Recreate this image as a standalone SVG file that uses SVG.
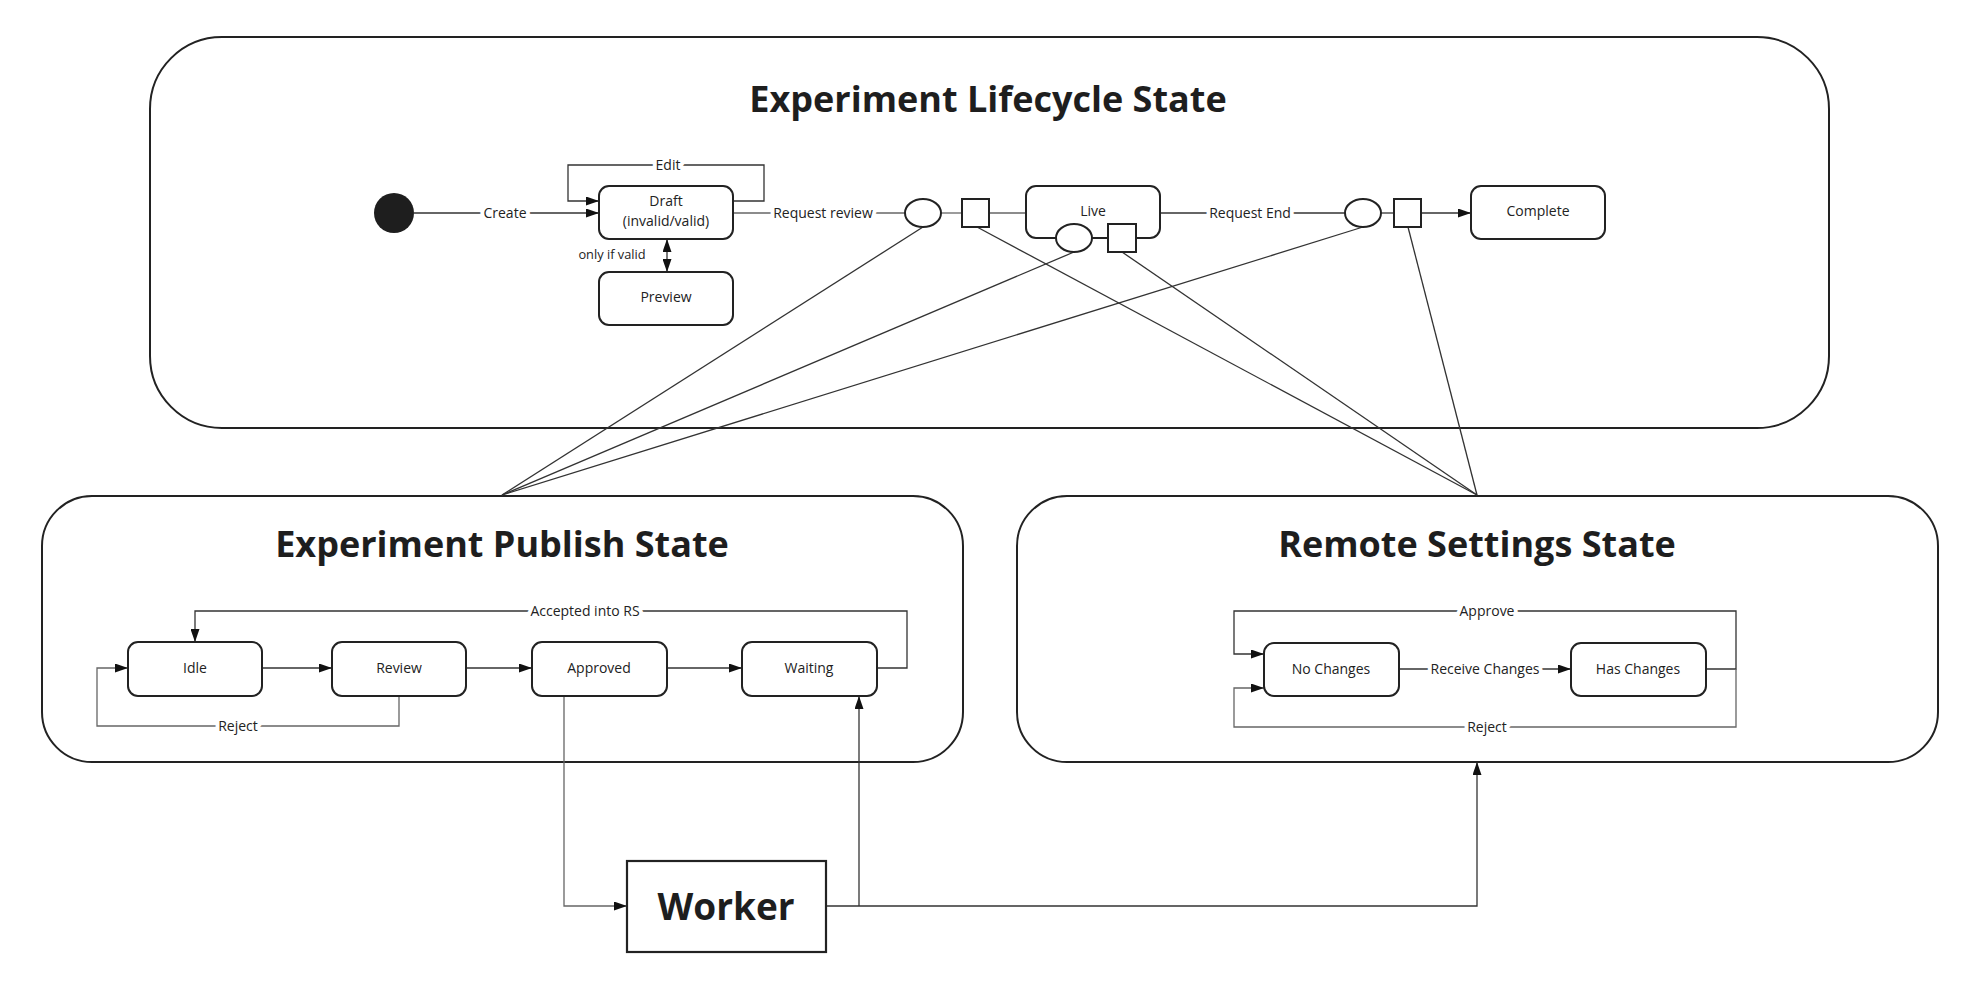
<svg xmlns="http://www.w3.org/2000/svg" width="1976" height="986" viewBox="0 0 1976 986">
<style>
.cont{fill:#fff;stroke:#222;stroke-width:2}
.node{fill:#fff;stroke:#222;stroke-width:2}
.title{font-family:"Open Sans","Liberation Sans",sans-serif;font-weight:700;font-size:36px;fill:#1e1e1e;text-anchor:middle}
.nt{font-family:"Open Sans","Liberation Sans",sans-serif;font-size:14px;fill:#222;text-anchor:middle}
.lbl{font-family:"Open Sans","Liberation Sans",sans-serif;font-size:14px;fill:#222;text-anchor:middle;stroke:#fff;stroke-width:8px;paint-order:stroke;stroke-linejoin:round}
.c{fill:none;stroke:#333;stroke-width:1.3}
.g{fill:none;stroke:#666;stroke-width:1.3}
</style>
<defs>
<marker id="arr" viewBox="0 0 10 10" refX="10" refY="5" markerWidth="13" markerHeight="9" markerUnits="userSpaceOnUse" orient="auto-start-reverse" preserveAspectRatio="none"><path d="M0,0 L10,5 L0,10 z" fill="#111"/></marker>
</defs>
<rect width="1976" height="986" fill="#fff"/>

<g id="lifecycle">
<rect class="cont" x="150" y="37" width="1679" height="391" rx="72"/>
<text class="title" x="988" y="112">Experiment Lifecycle State</text>
</g>
<g id="publish">
<rect class="cont" x="42" y="496" width="921" height="266" rx="50"/>
<text class="title" x="502" y="557">Experiment Publish State</text>
</g>
<g id="remote">
<rect class="cont" x="1017" y="496" width="921" height="266" rx="50"/>
<text class="title" x="1477" y="557">Remote Settings State</text>
</g>

<g id="connectors">
<path class="c" d="M923,227 L502,495"/>
<path class="c" d="M1074,252 L502,495"/>
<path class="c" d="M1363,227 L502,495"/>
<path class="c" d="M977,227 L1477,495"/>
<path class="c" d="M1122,252 L1477,495"/>
<path class="c" d="M1408,227 L1477,495"/>

<path class="c" d="M414,213 H599" marker-end="url(#arr)"/>
<path class="c" d="M733,201 H764 V165 H568 V201 H599" marker-end="url(#arr)"/>
<path class="c" d="M667,239 V272" marker-start="url(#arr)" marker-end="url(#arr)"/>
<path class="g" d="M733,213 H905"/>
<path class="g" d="M941,213 H962"/>
<path class="g" d="M989,213 H1026"/>
<path class="c" d="M1160,213 H1345"/>
<path class="c" d="M1381,213 H1394"/>
<path class="c" d="M1421,213 H1471" marker-end="url(#arr)"/>
<path class="c" d="M1092,238 H1108"/>

<path class="c" d="M262,668 H332" marker-end="url(#arr)"/>
<path class="c" d="M466,668 H532" marker-end="url(#arr)"/>
<path class="c" d="M667,668 H742" marker-end="url(#arr)"/>
<path class="c" d="M877,668 H907 V611 H195 V642" marker-end="url(#arr)"/>
<path class="g" d="M399,696 V726 H97 V668 H128" marker-end="url(#arr)"/>

<path class="g" d="M564,696 V906 H627" marker-end="url(#arr)"/>
<path class="c" d="M826,906 H1477 V762" marker-end="url(#arr)"/>
<path class="c" d="M859,906 V696" marker-end="url(#arr)"/>

<path class="c" d="M1399,669 H1571" marker-end="url(#arr)"/>
<path class="c" d="M1706,669 H1736 V611 H1234 V654 H1264" marker-end="url(#arr)"/>
<path class="g" d="M1736,669 V727 H1234 V688 H1264" marker-end="url(#arr)"/>

<text class="lbl" x="505" y="218">Create</text>
<text class="lbl" x="668" y="170">Edit</text>
<text class="lbl" x="612" y="259" style="font-size:12.8px">only if valid</text>
<text class="lbl" x="823" y="218">Request review</text>
<text class="lbl" x="1250" y="218">Request End</text>
<text class="lbl" x="585" y="616">Accepted into RS</text>
<text class="lbl" x="238" y="731">Reject</text>
<text class="lbl" x="1485" y="674">Receive Changes</text>
<text class="lbl" x="1487" y="616">Approve</text>
<text class="lbl" x="1487" y="732">Reject</text>
</g>

<g id="start"><circle cx="394" cy="213" r="20" fill="#1e1e1e"/></g>
<g id="draft"><rect class="node" x="599" y="186" width="134" height="53" rx="10"/>
<text class="nt" x="666" y="206">Draft</text><text class="nt" x="666" y="226">(invalid/valid)</text></g>
<g id="preview"><rect class="node" x="599" y="272" width="134" height="53" rx="10"/><text class="nt" x="666" y="302">Preview</text></g>
<g id="rr-ellipse"><ellipse class="node" cx="923" cy="213" rx="18" ry="14"/></g>
<g id="rr-square"><rect class="node" x="962" y="199" width="27" height="28"/></g>
<g id="live"><rect class="node" x="1026" y="186" width="134" height="52" rx="10"/><text class="nt" x="1093" y="216">Live</text></g>
<g id="live-ellipse"><ellipse class="node" cx="1074" cy="238" rx="18" ry="14"/></g>
<g id="live-square"><rect class="node" x="1108" y="224" width="28" height="28"/></g>
<g id="re-ellipse"><ellipse class="node" cx="1363" cy="213" rx="18" ry="14"/></g>
<g id="re-square"><rect class="node" x="1394" y="199" width="27" height="28"/></g>
<g id="complete"><rect class="node" x="1471" y="186" width="134" height="53" rx="10"/><text class="nt" x="1538" y="216">Complete</text></g>

<g id="idle"><rect class="node" x="128" y="642" width="134" height="54" rx="10"/><text class="nt" x="195" y="673">Idle</text></g>
<g id="review"><rect class="node" x="332" y="642" width="134" height="54" rx="10"/><text class="nt" x="399" y="673">Review</text></g>
<g id="approved"><rect class="node" x="532" y="642" width="135" height="54" rx="10"/><text class="nt" x="599" y="673">Approved</text></g>
<g id="waiting"><rect class="node" x="742" y="642" width="135" height="54" rx="10"/><text class="nt" x="809" y="673">Waiting</text></g>

<g id="nochanges"><rect class="node" x="1264" y="643" width="135" height="53" rx="10"/><text class="nt" x="1331" y="674">No Changes</text></g>
<g id="haschanges"><rect class="node" x="1571" y="643" width="135" height="53" rx="10"/><text class="nt" x="1638" y="674">Has Changes</text></g>

<g id="worker"><rect x="627" y="861" width="199" height="91" fill="#fff" stroke="#222" stroke-width="2.2"/>
<text class="title" x="726" y="920" style="font-size:37px">Worker</text></g>
</svg>
